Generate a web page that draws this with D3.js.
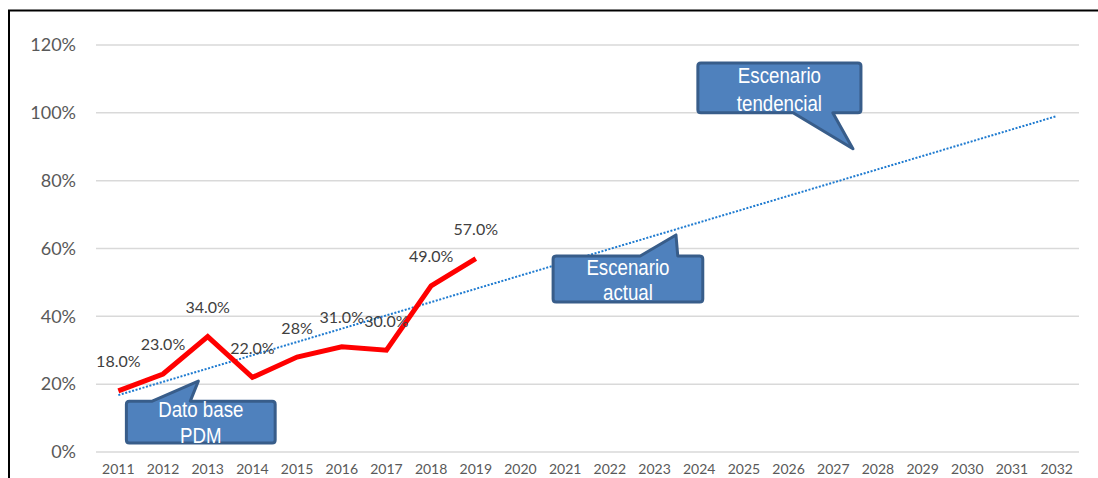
<!DOCTYPE html>
<meta charset="utf-8" />
<title>Escenarios</title>
<script src="https://cdn.jsdelivr.net/npm/d3@7"></script>

<style>
  body {
    margin: 0;
    padding: 0;
    background: #fff;
    font-family: Lato, "Open Sans", sans-serif;
  }

  .grid line {
    stroke: #d9d9d9;
    stroke-width: 1.5;
  }

  .axis text {
    fill: #595959;
  }

  .real {
    fill: none;
    stroke: #ff0000;
    stroke-width: 5;
    stroke-linejoin: miter;
  }

  .trend {
    fill: none;
    stroke: #1f7bd0;
    stroke-width: 2;
    stroke-dasharray: 2, 1.6;
  }

  .lbl {
    fill: #404040;
    font-size: 16px;
  }

  .callout path {
    fill: #4f81bd;
    stroke: #385d8a;
    stroke-width: 3;
    stroke-linejoin: round;
  }

  .callout text {
    fill: #fff;
    font-family: "Liberation Sans", Arial, sans-serif;
    font-size: 22px;
    text-anchor: middle;
  }
</style>

<body>
  <div id="chart"></div>
</body>

<script>
  // data
  var years = d3.range(2011, 2033).map(String);
  var realYears = ["2011", "2012", "2013", "2014", "2015", "2016", "2017", "2018", "2019"];
  var realValues = [18, 23, 34, 22, 28, 31, 30, 49, 57];
  var realLabels = ["18.0%", "23.0%", "34.0%", "22.0%", "28%", "31.0%", "30.0%", "49.0%", "57.0%"];
  var yTicks = [0, 20, 40, 60, 80, 100, 120];

  // callouts, placed in (year index, percent)
  var callouts = [
    { lines: ["Dato base", "PDM"], x0: 0.18, x1: 3.51, y0: 15.0, y1: 2.65, tip: [1.79, 20.9], base: [0.76, 1.61], side: "top", textTop: 16, gap: 26 },
    { lines: ["Escenario", "actual"], x0: 9.73, x1: 13.08, y0: 57.8, y1: 44.2, tip: [12.48, 64.0], base: [11.68, 12.52], side: "top", textTop: 19, gap: 25 },
    { lines: ["Escenario", "tendencial"], x0: 12.97, x1: 16.62, y0: 114.7, y1: 100.0, tip: [16.44, 89.4], base: [15.10, 15.99], side: "bottom", textTop: 20, gap: 28 }
  ];
  var squeeze = 0.85; // callout text is drawn condensed

  var W = 1098, H = 478;
  var plotLeft = 96, plotRight = 1079, plotTop = 45, plotBottom = 452;

  var svg = d3.select("#chart").append("svg")
    .attr("width", W)
    .attr("height", H);

  // frame
  svg.append("path")
    .attr("d", "M9,478 L9,10.5 L1098,10.5")
    .attr("fill", "none")
    .attr("stroke", "#000")
    .attr("stroke-width", 2);

  var x = d3.scaleBand().domain(years).range([plotLeft, plotRight]);
  var y = d3.scaleLinear().domain([0, 120]).range([plotBottom, plotTop]);
  var xi = d3.scaleLinear().domain([0, years.length - 1])
    .range([x(years[0]) + x.bandwidth() / 2, x(years[years.length - 1]) + x.bandwidth() / 2]);

  // grid
  svg.append("g").attr("class", "grid")
    .selectAll("line").data(yTicks).enter().append("line")
    .attr("x1", plotLeft).attr("x2", plotRight)
    .attr("y1", function (d) { return y(d); })
    .attr("y2", function (d) { return y(d); });

  // y axis labels
  var yAxis = svg.append("g").attr("class", "axis")
    .attr("transform", "translate(" + (plotLeft - 20) + ",0)")
    .call(d3.axisLeft(y).tickValues(yTicks).tickSize(0).tickFormat(function (d) { return d + "%"; }));
  yAxis.select(".domain").remove();
  yAxis.selectAll("text").attr("font-size", 18).attr("font-family", "Lato, sans-serif").attr("x", 0);

  // x axis labels
  var xAxis = svg.append("g").attr("class", "axis")
    .attr("transform", "translate(0," + plotBottom + ")")
    .call(d3.axisBottom(x).tickSize(0));
  xAxis.select(".domain").remove();
  xAxis.selectAll("text").attr("font-size", 14).attr("font-family", "Lato, sans-serif").attr("y", 12);

  // linear trend from the observed values, extended to the last year
  var mx = d3.mean(realValues, function (d, i) { return i; });
  var my = d3.mean(realValues);
  var sxy = d3.sum(realValues, function (d, i) { return (i - mx) * (d - my); });
  var sxx = d3.sum(realValues, function (d, i) { return (i - mx) * (i - mx); });
  var slope = sxy / sxx, icpt = my - slope * mx;

  var trend = d3.line()
    .x(function (d) { return xi(d); })
    .y(function (d) { return y(icpt + slope * d); });
  svg.append("path")
    .datum([0, years.length - 1])
    .attr("class", "trend")
    .attr("d", trend);

  // real values
  var line = d3.line()
    .x(function (d, i) { return x(realYears[i]) + x.bandwidth() / 2; })
    .y(function (d) { return y(d); });
  svg.append("path")
    .datum(realValues)
    .attr("class", "real")
    .attr("d", line);

  svg.selectAll(".lbl").data(realValues).enter().append("text")
    .attr("class", "lbl")
    .attr("text-anchor", "middle")
    .attr("x", function (d, i) { return x(realYears[i]) + x.bandwidth() / 2; })
    .attr("y", function (d) { return y(d) - 23.5; })
    .text(function (d, i) { return realLabels[i]; });

  // callouts
  function calloutPath(c) {
    var ax = xi(c.x0), bx = xi(c.x1), ay = y(c.y0), by = y(c.y1);
    var r = 3;
    var p1 = xi(c.base[0]), p2 = xi(c.base[1]);
    var tx = xi(c.tip[0]), ty = y(c.tip[1]);
    var d = "M" + (ax + r) + "," + ay;
    if (c.side === "top") d += " L" + p1 + "," + ay + " L" + tx + "," + ty + " L" + p2 + "," + ay;
    d += " L" + (bx - r) + "," + ay + " Q" + bx + "," + ay + " " + bx + "," + (ay + r);
    d += " L" + bx + "," + (by - r) + " Q" + bx + "," + by + " " + (bx - r) + "," + by;
    if (c.side === "bottom") d += " L" + p2 + "," + by + " L" + tx + "," + ty + " L" + p1 + "," + by;
    d += " L" + (ax + r) + "," + by + " Q" + ax + "," + by + " " + ax + "," + (by - r);
    d += " L" + ax + "," + (ay + r) + " Q" + ax + "," + ay + " " + (ax + r) + "," + ay + " Z";
    return d;
  }

  var cg = svg.selectAll(".callout").data(callouts).enter().append("g").attr("class", "callout");
  cg.append("path").attr("d", calloutPath);
  cg.each(function (c) {
    var g = d3.select(this);
    var cx = (xi(c.x0) + xi(c.x1)) / 2, ty = y(c.y0);
    c.lines.forEach(function (t, k) {
      g.append("text")
        .attr("transform", "translate(" + cx + "," + (ty + c.textTop + k * c.gap) + ") scale(" + squeeze + ",1)")
        .text(t);
    });
  });
</script>
